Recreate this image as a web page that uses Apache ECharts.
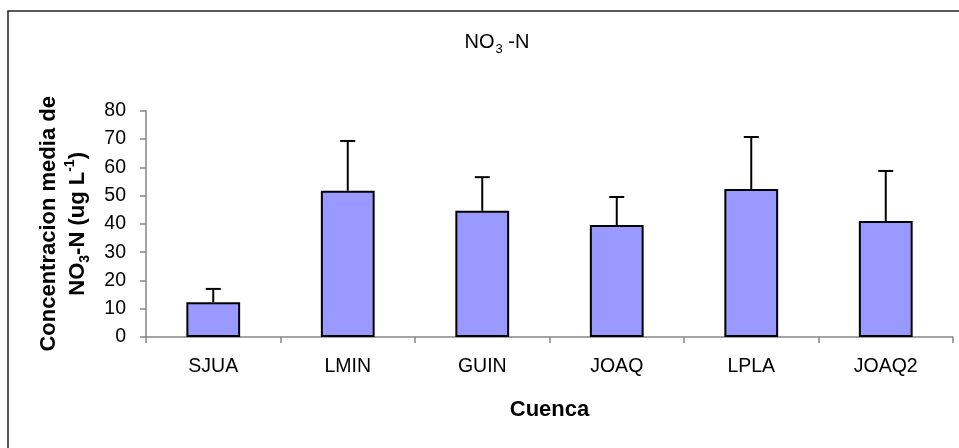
<!DOCTYPE html>
<html>
<head>
<meta charset="utf-8">
<script src="https://cdn.jsdelivr.net/npm/echarts@6/dist/echarts.min.js"></script>
<style>
html,body{margin:0;padding:0;background:#fff;}
#chart{width:959px;height:448px;}
</style>
</head>
<body>
<div id="chart"></div>
<script>
var categories = ['SJUA', 'LMIN', 'GUIN', 'JOAQ', 'LPLA', 'JOAQ2'];
var meanValues = [12.3, 51.7, 44.6, 39.6, 52.3, 41.0];
var errorValues = [4.7, 17.6, 11.9, 9.9, 18.4, 17.7];
var yTicks = [0, 10, 20, 30, 40, 50, 60, 70, 80];

var FONT = "'Liberation Sans', Arial, sans-serif";
var chart = echarts.init(document.getElementById('chart'), null, {renderer: 'canvas'});

var errorData = categories.map(function (c, i) { return [i, meanValues[i], meanValues[i] + errorValues[i]]; });

var option = {
  backgroundColor: '#ffffff',
  animation: false,
  title: {
    text: '{a|NO}{s|3}{a| -N}',
    left: 492,
    top: 23,
    textAlign: 'center',
    textStyle: {
      fontFamily: FONT,
      fontWeight: 'normal',
      rich: {
        a: {fontFamily: FONT, fontSize: 20, fontWeight: 'normal', color: '#000', lineHeight: 28},
        s: {fontFamily: FONT, fontSize: 13, fontWeight: 'normal', color: '#000', lineHeight: 12, verticalAlign: 'bottom', padding: [0, 0, 0, 1]}
      }
    }
  },
  graphic: [{
    type: 'rect',
    silent: true,
    shape: {x: 8, y: 11, width: 2000, height: 2000},
    style: {fill: 'none', stroke: '#222', lineWidth: 1.5}
  }],
  grid: {left: 146, right: 6, top: 110.7, bottom: 111},
  xAxis: {
    type: 'category',
    data: categories,
    name: 'Cuenca',
    nameLocation: 'middle',
    nameGap: 62,
    nameTextStyle: {fontFamily: FONT, fontSize: 22, fontWeight: 'bold', color: '#000'},
    axisLine: {lineStyle: {color: '#868686', width: 1.5}},
    axisTick: {show: true, length: 6, inside: false, alignWithLabel: false, lineStyle: {color: '#868686', width: 1.5}},
    axisLabel: {fontFamily: FONT, fontSize: 19.5, color: '#000', margin: 20}
  },
  yAxis: {
    type: 'value',
    min: yTicks[0],
    max: yTicks[yTicks.length - 1],
    interval: yTicks[1] - yTicks[0],
    name: '{b|Concentracion media de}\n{b|NO}{sub|3}{b|-N (ug L}{sup|-1}{b|)}',
    nameLocation: 'middle',
    nameRotate: 90,
    nameGap: 54,
    nameTextStyle: {
      fontFamily: FONT,
      rich: {
        b: {fontFamily: FONT, fontSize: 22, fontWeight: 'bold', color: '#000', lineHeight: 29},
        sub: {fontFamily: FONT, fontSize: 14, fontWeight: 'bold', color: '#000', lineHeight: 16, verticalAlign: 'bottom'},
        sup: {fontFamily: FONT, fontSize: 14, fontWeight: 'bold', color: '#000', lineHeight: 16, verticalAlign: 'top'}
      }
    },
    splitLine: {show: false},
    axisLine: {show: true, lineStyle: {color: '#868686', width: 1.5}},
    axisTick: {show: true, length: 6, inside: false, lineStyle: {color: '#868686', width: 1.5}},
    axisLabel: {fontFamily: FONT, fontSize: 19.5, color: '#000', margin: 20}
  },
  series: [{
    type: 'bar',
    data: meanValues,
    barWidth: '40%',
    itemStyle: {color: '#9999FF', borderColor: '#000', borderWidth: 2}
  }, {
    type: 'custom',
    data: errorData,
    z: 3,
    renderItem: function (params, api) {
      var x = api.value(0);
      var low = api.coord([x, api.value(1)]);
      var high = api.coord([x, api.value(2)]);
      var half = 7.5;
      var st = {stroke: '#000', lineWidth: 2, fill: null};
      return {
        type: 'group',
        children: [
          {type: 'line', shape: {x1: low[0], y1: low[1], x2: high[0], y2: high[1]}, style: st},
          {type: 'line', shape: {x1: high[0] - half, y1: high[1], x2: high[0] + half, y2: high[1]}, style: st}
        ]
      };
    }
  }]
};
chart.setOption(option);
</script>
</body>
</html>
